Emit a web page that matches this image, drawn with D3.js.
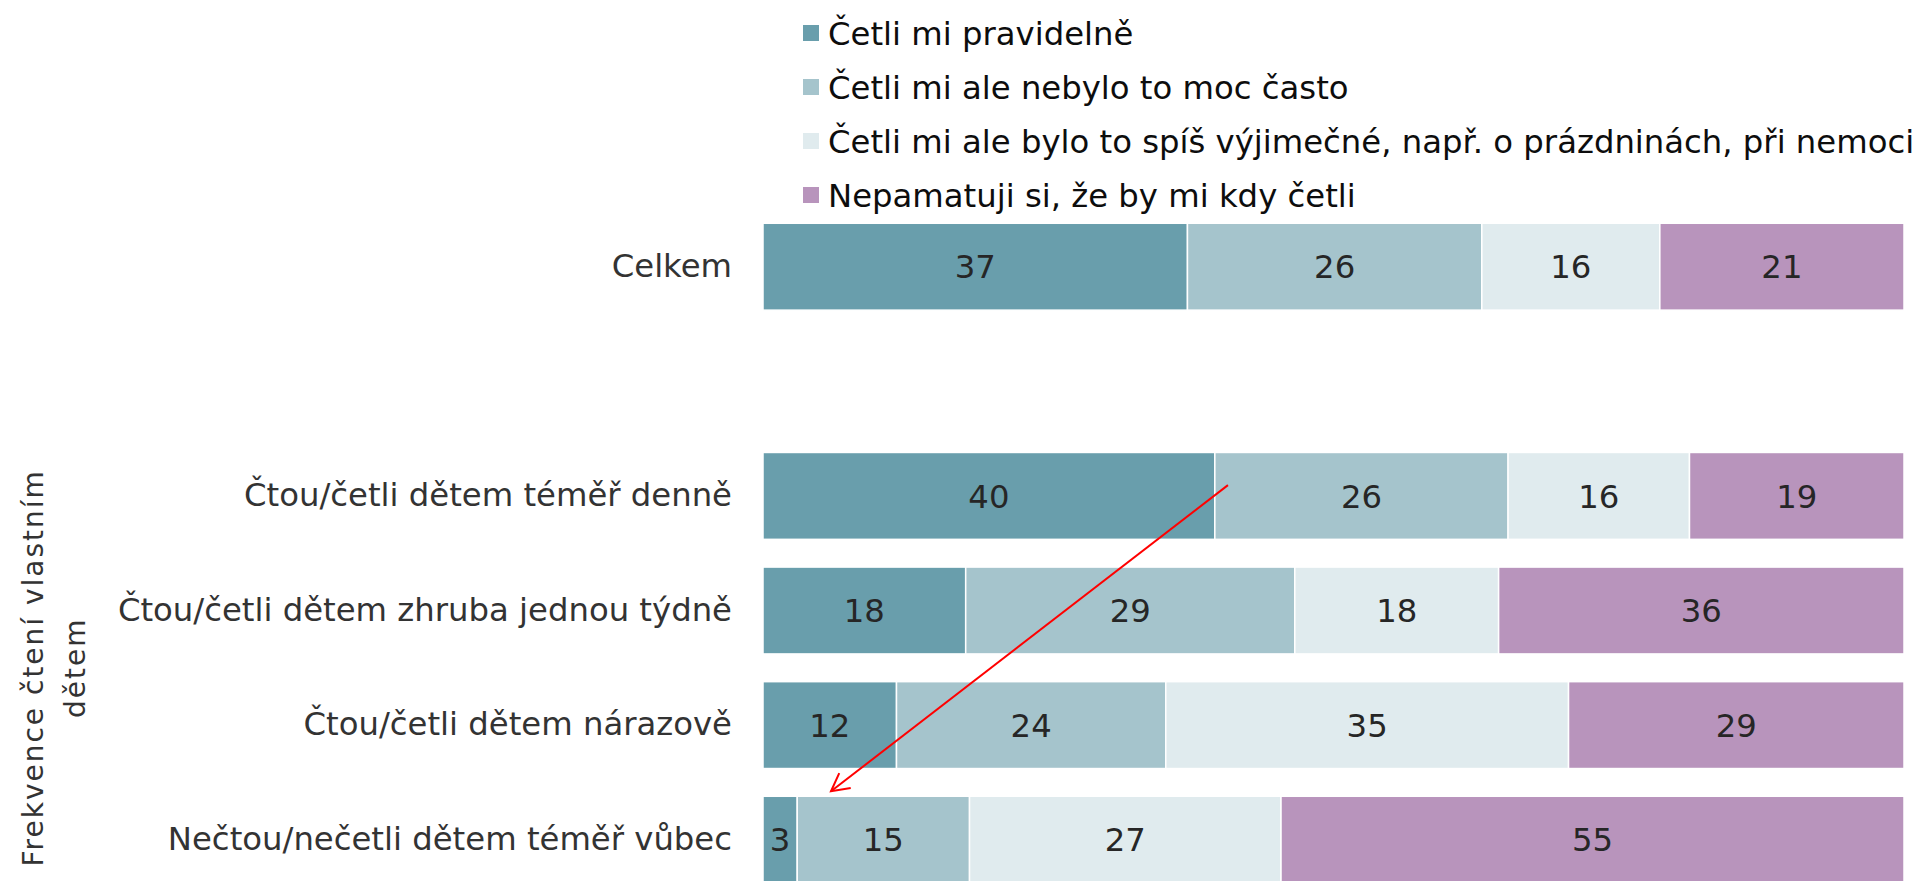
<!DOCTYPE html>
<html>
<head>
<meta charset="utf-8">
<script src="https://cdn.jsdelivr.net/npm/d3@7"></script>
<style>
    html, body { margin: 0; padding: 0; background: #fff; }
    svg { display: block; font-family: 'DejaVu Sans', Verdana, sans-serif; }
</style>
</head>
<body>
<div id="chart"></div>
<script>
// categories (the empty one is the gap row between Celkem and the groups)
const categories = [
    'Celkem',
    '',
    'Čtou/četli dětem téměř denně',
    'Čtou/četli dětem zhruba jednou týdně',
    'Čtou/četli dětem nárazově',
    'Nečtou/nečetli dětem téměř vůbec'
];
const seriesNames = [
    'Četli mi pravidelně',
    'Četli mi ale nebylo to moc často',
    'Četli mi ale bylo to spíš výjimečné, např. o prázdninách, při nemoci',
    'Nepamatuji si, že by mi kdy četli'
];
// percentages (labels show them rounded)
const pravidelne   = [37.2, null, 39.6, 17.8, 11.7, 3.0];
const neMocCasto   = [25.8, null, 25.7, 28.9, 23.6, 15.1];
const vyjimecne    = [15.6, null, 15.9, 17.9, 35.3, 27.3];
const nepamatuji   = [21.4, null, 18.8, 35.6, 29.4, 54.6];
const colors = ['#699EAC', '#A5C4CC', '#E0EBEE', '#B894BC'];
const groupTitle = ['Frekvence čtení vlastním', 'dětem'];

const width = 1919, height = 881;
const fontSize = 32.3;

const svg = d3.select('#chart').append('svg')
    .attr('width', width)
    .attr('height', height);

// build rows for the stack
const allSeries = [pravidelne, neMocCasto, vyjimecne, nepamatuji];
const rows = categories.map((c, i) => {
    const row = { cat: c };
    seriesNames.forEach((s, j) => { row[s] = allSeries[j][i]; });
    return row;
}).filter(r => r[seriesNames[0]] !== null);

const stacked = d3.stack()
    .keys(seriesNames)
    .offset(d3.stackOffsetExpand)(rows);

const x = d3.scaleLinear().domain([0, 1]).range([763, 1904]);
const y = d3.scaleBand()
    .domain(categories)
    .range([209.4, 897])
    .paddingInner(0.242)
    .paddingOuter(0.121);
const color = d3.scaleOrdinal().domain(seriesNames).range(colors);
const fmt = d3.format('.0f');

// bars
const layers = svg.append('g').selectAll('g')
    .data(stacked)
    .enter().append('g')
    .attr('fill', d => color(d.key));

layers.selectAll('rect')
    .data(d => d.map(p => Object.assign(p, { key: d.key })))
    .enter().append('rect')
    .attr('x', d => x(d[0]))
    .attr('y', d => y(d.data.cat))
    .attr('width', d => x(d[1]) - x(d[0]))
    .attr('height', y.bandwidth())
    .attr('stroke', '#fff')
    .attr('stroke-width', 1.5);

// value labels
layers.selectAll('text')
    .data(d => d)
    .enter().append('text')
    .attr('x', d => (x(d[0]) + x(d[1])) / 2)
    .attr('y', d => y(d.data.cat) + y.bandwidth() / 2)
    .attr('dy', '0.36em')
    .attr('text-anchor', 'middle')
    .style('font-size', fontSize + 'px')
    .attr('fill', '#262626')
    .text(d => fmt(d.data[d.key]));

// category axis
const yAxis = svg.append('g')
    .attr('transform', `translate(${x(0) - 31},0)`)
    .call(d3.axisLeft(y).tickSize(0).tickPadding(0));
yAxis.select('.domain').remove();
yAxis.selectAll('text')
    .style('font-size', fontSize + 'px')
    .style('font-family', "'DejaVu Sans', Verdana, sans-serif")
    .attr('fill', '#333');

// group title (rotated)
const groupRows = categories.slice(2);
const groupMid = (y(groupRows[0]) + y(groupRows[groupRows.length - 1]) + y.bandwidth()) / 2;
const title = svg.append('g')
    .attr('fill', '#333')
    .style('font-size', '28px')
    .style('letter-spacing', '2px');
groupTitle.forEach((t, i) => {
    title.append('text')
        .attr('transform', `translate(${43 + i * 42},${groupMid}) rotate(-90)`)
        .attr('text-anchor', 'middle')
        .text(t);
});

// legend
const legend = svg.append('g').selectAll('g')
    .data(seriesNames)
    .enter().append('g')
    .attr('transform', (d, i) => `translate(803,${33 + i * 54})`);
legend.append('rect')
    .attr('x', 0).attr('y', -8)
    .attr('width', 16).attr('height', 16)
    .attr('fill', d => color(d));
legend.append('text')
    .attr('x', 25)
    .attr('dy', '0.36em')
    .style('font-size', fontSize + 'px')
    .attr('fill', '#0d0d0d')
    .text(d => d);

// red annotation arrow
const from = [x(0.4075), y(categories[2]) + y.bandwidth() * 0.376];
const to = [x(0.0596), y(categories[5]) - 5];
svg.append('line')
    .attr('x1', from[0]).attr('y1', from[1])
    .attr('x2', to[0]).attr('y2', to[1])
    .attr('stroke', '#f00')
    .attr('stroke-width', 2);
const ang = Math.atan2(from[1] - to[1], from[0] - to[0]);
const wing = 20, spread = 28 * Math.PI / 180;
svg.append('path')
    .attr('d', `M${to[0] + wing * Math.cos(ang - spread)},${to[1] + wing * Math.sin(ang - spread)}` +
        `L${to[0]},${to[1]}` +
        `L${to[0] + wing * Math.cos(ang + spread)},${to[1] + wing * Math.sin(ang + spread)}`)
    .attr('fill', 'none')
    .attr('stroke', '#f00')
    .attr('stroke-width', 2);
</script>
</body>
</html>
